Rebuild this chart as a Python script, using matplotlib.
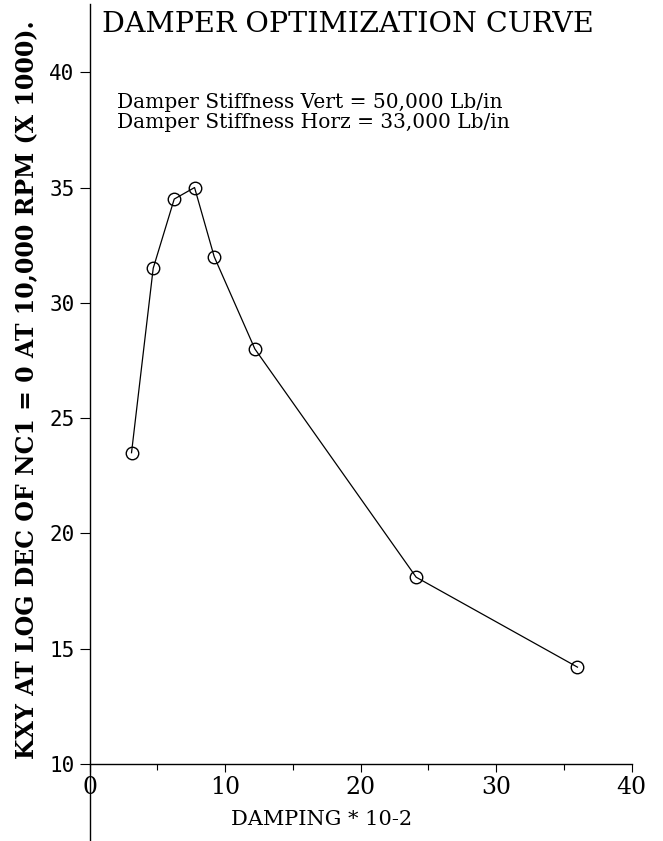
import matplotlib
matplotlib.use('Agg')
import matplotlib.pyplot as plt

damping = [3.1, 4.7, 6.25, 7.75, 9.2, 12.2, 24.1, 36.0]
kxy = [23.5, 31.5, 34.5, 35.0, 32.0, 28.0, 18.1, 14.2]

x_ticks = [0, 10, 20, 30, 40]
x_minor = [5, 15, 25, 35]
y_ticks = [10, 15, 20, 25, 30, 35, 40]

title = 'DAMPER OPTIMIZATION CURVE'
note_lines = ['Damper Stiffness Vert = 50,000 Lb/in',
              'Damper Stiffness Horz = 33,000 Lb/in']
xlabel = 'DAMPING * 10-2'
ylabel = 'KXY AT LOG DEC OF NC1 = 0 AT 10,000 RPM (X 1000).'

W, H = 663, 841
fig = plt.figure(figsize=(W / 100, H / 100), dpi=100)
ax = fig.add_axes([89.5 / W, 0.0, (631.7 - 89.5) / W, (H - 4) / H])

ax.plot(damping, kxy, color='black', lw=0.9, marker='o', ms=9,
        mfc='none', mec='black', mew=1.0)

ax.set_xlim(0, 40)
ax.set_ylim(6.66, 42.96)

for s in ['top', 'right']:
    ax.spines[s].set_visible(False)
ax.spines['bottom'].set_position(('data', 10))
ax.spines['left'].set_linewidth(1.0)
ax.spines['bottom'].set_linewidth(1.0)

ax.set_xticks(x_ticks)
ax.set_xticks(x_minor, minor=True)
ax.set_yticks(y_ticks)
ax.tick_params(axis='x', which='major', direction='out', length=5.5, width=0.8,
               pad=3)
ax.tick_params(axis='x', which='minor', direction='out', length=4, width=0.8)
ax.tick_params(axis='y', direction='out', length=7.2, width=0.8, pad=3.5)

for lab in ax.get_xticklabels():
    lab.set_fontfamily('DejaVu Serif')
    lab.set_fontsize(17)
for lab in ax.get_yticklabels():
    lab.set_fontfamily('DejaVu Sans Mono')
    lab.set_fontsize(15)

fig.text(101.7 / W, 1 - 32 / H, title, family='DejaVu Serif', fontsize=20.5,
         ha='left', va='baseline')
fig.text(116.7 / W, 1 - 108 / H, note_lines[0], family='DejaVu Serif',
         fontsize=14.5, ha='left', va='baseline')
fig.text(116.7 / W, 1 - 128 / H, note_lines[1], family='DejaVu Serif',
         fontsize=14.5, ha='left', va='baseline')
fig.text(321.5 / W, 1 - 825 / H, xlabel, family='DejaVu Serif', fontsize=15,
         ha='center', va='baseline')
fig.text(27 / W, 1 - 390 / H, ylabel, family='DejaVu Serif', fontsize=17,
         fontweight='bold', rotation=90, ha='center', va='center')

fig.savefig('out.png', dpi=100)
